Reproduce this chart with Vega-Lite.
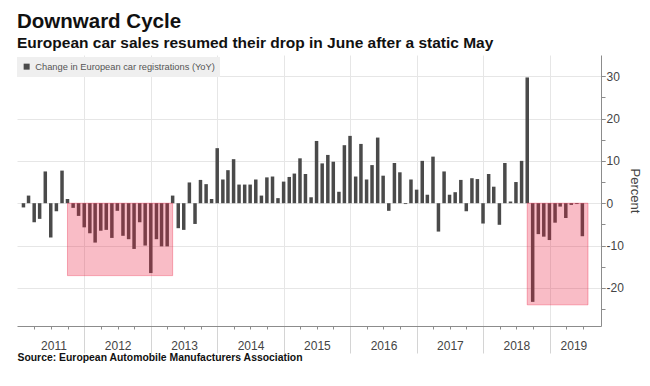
{
  "$schema": "https://vega.github.io/schema/vega-lite/v6.json",
  "width": 584,
  "height": 271,
  "autosize": {"type": "none"},
  "padding": {"left": 17, "top": 55, "right": 49, "bottom": 60},
  "background": "white",
  "title": {
    "text": "Downward Cycle",
    "subtitle": "European car sales resumed their drop in June after a static May",
    "anchor": "start",
    "frame": "group",
    "font": "Liberation Sans",
    "fontSize": 20.5,
    "fontWeight": "bold",
    "color": "#111111",
    "subtitleFont": "Liberation Sans",
    "subtitleFontSize": 15.5,
    "subtitleFontWeight": "bold",
    "subtitleColor": "#111111",
    "subtitlePadding": 3,
    "offset": 4
  },
  "datasets": {
    "sales": [
      {"date": "2011-01-31", "value": -1.0},
      {"date": "2011-02-28", "value": 1.8},
      {"date": "2011-03-31", "value": -4.5},
      {"date": "2011-04-30", "value": -3.7},
      {"date": "2011-05-31", "value": 7.5},
      {"date": "2011-06-30", "value": -8.1},
      {"date": "2011-07-31", "value": -1.9},
      {"date": "2011-08-31", "value": 7.7},
      {"date": "2011-09-30", "value": 1.0},
      {"date": "2011-10-31", "value": -1.1},
      {"date": "2011-11-30", "value": -3.0},
      {"date": "2011-12-31", "value": -5.7},
      {"date": "2012-01-31", "value": -7.1},
      {"date": "2012-02-29", "value": -9.3},
      {"date": "2012-03-31", "value": -6.5},
      {"date": "2012-04-30", "value": -6.3},
      {"date": "2012-05-31", "value": -8.2},
      {"date": "2012-06-30", "value": -1.8},
      {"date": "2012-07-31", "value": -7.7},
      {"date": "2012-08-31", "value": -8.5},
      {"date": "2012-09-30", "value": -10.8},
      {"date": "2012-10-31", "value": -4.5},
      {"date": "2012-11-30", "value": -10.0},
      {"date": "2012-12-31", "value": -16.5},
      {"date": "2013-01-31", "value": -8.5},
      {"date": "2013-02-28", "value": -10.2},
      {"date": "2013-03-31", "value": -10.2},
      {"date": "2013-04-30", "value": 1.8},
      {"date": "2013-05-31", "value": -5.9},
      {"date": "2013-06-30", "value": -6.3},
      {"date": "2013-07-31", "value": 4.9},
      {"date": "2013-08-31", "value": -4.9},
      {"date": "2013-09-30", "value": 5.5},
      {"date": "2013-10-31", "value": 4.5},
      {"date": "2013-11-30", "value": 1.0},
      {"date": "2013-12-31", "value": 13.0},
      {"date": "2014-01-31", "value": 5.6},
      {"date": "2014-02-28", "value": 7.8},
      {"date": "2014-03-31", "value": 10.4},
      {"date": "2014-04-30", "value": 4.4},
      {"date": "2014-05-31", "value": 4.4},
      {"date": "2014-06-30", "value": 4.4},
      {"date": "2014-07-31", "value": 5.6},
      {"date": "2014-08-31", "value": 1.8},
      {"date": "2014-09-30", "value": 6.1},
      {"date": "2014-10-31", "value": 6.3},
      {"date": "2014-11-30", "value": 1.2},
      {"date": "2014-12-31", "value": 5.1},
      {"date": "2015-01-31", "value": 6.2},
      {"date": "2015-02-28", "value": 7.0},
      {"date": "2015-03-31", "value": 10.6},
      {"date": "2015-04-30", "value": 6.9},
      {"date": "2015-05-31", "value": 1.4},
      {"date": "2015-06-30", "value": 14.7},
      {"date": "2015-07-31", "value": 9.4},
      {"date": "2015-08-31", "value": 11.4},
      {"date": "2015-09-30", "value": 9.8},
      {"date": "2015-10-31", "value": 2.7},
      {"date": "2015-11-30", "value": 13.7},
      {"date": "2015-12-31", "value": 15.9},
      {"date": "2016-01-31", "value": 6.3},
      {"date": "2016-02-29", "value": 14.0},
      {"date": "2016-03-31", "value": 5.6},
      {"date": "2016-04-30", "value": 9.0},
      {"date": "2016-05-31", "value": 15.5},
      {"date": "2016-06-30", "value": 6.5},
      {"date": "2016-07-31", "value": -1.8},
      {"date": "2016-08-31", "value": 9.5},
      {"date": "2016-09-30", "value": 7.3},
      {"date": "2016-10-31", "value": -0.2},
      {"date": "2016-11-30", "value": 5.6},
      {"date": "2016-12-31", "value": 3.2},
      {"date": "2017-01-31", "value": 10.0},
      {"date": "2017-02-28", "value": 2.0},
      {"date": "2017-03-31", "value": 11.0},
      {"date": "2017-04-30", "value": -6.7},
      {"date": "2017-05-31", "value": 7.5},
      {"date": "2017-06-30", "value": 2.0},
      {"date": "2017-07-31", "value": 2.6},
      {"date": "2017-08-31", "value": 5.5},
      {"date": "2017-09-30", "value": -1.9},
      {"date": "2017-10-31", "value": 5.9},
      {"date": "2017-11-30", "value": 5.7},
      {"date": "2017-12-31", "value": -4.8},
      {"date": "2018-01-31", "value": 6.9},
      {"date": "2018-02-28", "value": 3.9},
      {"date": "2018-03-31", "value": -5.1},
      {"date": "2018-04-30", "value": 9.5},
      {"date": "2018-05-31", "value": 0.4},
      {"date": "2018-06-30", "value": 5.0},
      {"date": "2018-07-31", "value": 10.0},
      {"date": "2018-08-31", "value": 29.7},
      {"date": "2018-09-30", "value": -23.3},
      {"date": "2018-10-31", "value": -7.3},
      {"date": "2018-11-30", "value": -7.9},
      {"date": "2018-12-31", "value": -8.7},
      {"date": "2019-01-31", "value": -4.6},
      {"date": "2019-02-28", "value": -0.8},
      {"date": "2019-03-31", "value": -3.5},
      {"date": "2019-04-30", "value": -0.4},
      {"date": "2019-05-31", "value": -0.2},
      {"date": "2019-06-30", "value": -7.8}
    ],
    "zones": [
      {"start": "2011-09-30", "end": "2013-04-30", "low": -17.1, "high": 0},
      {"start": "2018-08-31", "end": "2019-07-31", "low": -24.0, "high": 0}
    ]
  },
  "layer": [
    {
      "data": {"name": "sales"},
      "mark": {"type": "bar", "width": 3.5, "color": "#4a4a4a"},
      "encoding": {
        "x": {
          "field": "date",
          "type": "temporal",
          "scale": {
            "type": "utc",
            "domain": [
              {"year": 2011, "month": 1, "date": 23, "utc": true},
              {"year": 2019, "month": 9, "date": 13, "utc": true}
            ]
          },
          "axis": {
            "orient": "bottom",
            "title": null,
            "labels": false,
            "values": [
              {"year": 2011, "month": 4, "date": 1, "utc": true},
              {"year": 2011, "month": 7, "date": 1, "utc": true},
              {"year": 2011, "month": 10, "date": 1, "utc": true},
              {"year": 2012, "month": 1, "date": 1, "utc": true},
              {"year": 2012, "month": 4, "date": 1, "utc": true},
              {"year": 2012, "month": 7, "date": 1, "utc": true},
              {"year": 2012, "month": 10, "date": 1, "utc": true},
              {"year": 2013, "month": 1, "date": 1, "utc": true},
              {"year": 2013, "month": 4, "date": 1, "utc": true},
              {"year": 2013, "month": 7, "date": 1, "utc": true},
              {"year": 2013, "month": 10, "date": 1, "utc": true},
              {"year": 2014, "month": 1, "date": 1, "utc": true},
              {"year": 2014, "month": 4, "date": 1, "utc": true},
              {"year": 2014, "month": 7, "date": 1, "utc": true},
              {"year": 2014, "month": 10, "date": 1, "utc": true},
              {"year": 2015, "month": 1, "date": 1, "utc": true},
              {"year": 2015, "month": 4, "date": 1, "utc": true},
              {"year": 2015, "month": 7, "date": 1, "utc": true},
              {"year": 2015, "month": 10, "date": 1, "utc": true},
              {"year": 2016, "month": 1, "date": 1, "utc": true},
              {"year": 2016, "month": 4, "date": 1, "utc": true},
              {"year": 2016, "month": 7, "date": 1, "utc": true},
              {"year": 2016, "month": 10, "date": 1, "utc": true},
              {"year": 2017, "month": 1, "date": 1, "utc": true},
              {"year": 2017, "month": 4, "date": 1, "utc": true},
              {"year": 2017, "month": 7, "date": 1, "utc": true},
              {"year": 2017, "month": 10, "date": 1, "utc": true},
              {"year": 2018, "month": 1, "date": 1, "utc": true},
              {"year": 2018, "month": 4, "date": 1, "utc": true},
              {"year": 2018, "month": 7, "date": 1, "utc": true},
              {"year": 2018, "month": 10, "date": 1, "utc": true},
              {"year": 2019, "month": 1, "date": 1, "utc": true},
              {"year": 2019, "month": 4, "date": 1, "utc": true},
              {"year": 2019, "month": 7, "date": 1, "utc": true}
            ],
            "grid": true,
            "gridColor": "#e6e6e6",
            "gridOpacity": {"condition": {"test": "utcmonth(datum.value) === 0", "value": 1}, "value": 0},
            "ticks": true,
            "tickSize": {"condition": {"test": "utcmonth(datum.value) === 0", "value": 27}, "value": 3},
            "tickColor": {"condition": {"test": "utcmonth(datum.value) === 0", "value": "#d4d4d4"}, "value": "#8c8c8c"},
            "domain": true,
            "domainColor": "#8c8c8c"
          }
        },
        "y": {
          "field": "value",
          "type": "quantitative",
          "scale": {"domain": [-29, 35], "nice": false, "zero": false},
          "axis": {
            "orient": "right",
            "title": "Percent",
            "values": [-20, -10, 0, 10, 20, 30],
            "grid": true,
            "gridColor": "#e6e6e6",
            "tickSize": 4,
            "tickColor": "#8c8c8c",
            "domainColor": "#8c8c8c",
            "labelPadding": 1,
            "labelFont": "Liberation Sans",
            "labelFontSize": 12,
            "labelColor": "#444444",
            "labelOverlap": false,
            "labelFlush": false,
            "titleFont": "Liberation Sans",
            "titleFontSize": 13,
            "titleFontWeight": "normal",
            "titleColor": "#444444",
            "titlePadding": 4
          }
        },
        "color": {
          "datum": "Change in European car registrations (YoY)",
          "type": "nominal",
          "scale": {"range": ["#4a4a4a"]},
          "legend": {
            "orient": "none",
            "legendX": 0,
            "legendY": 2,
            "title": null,
            "fillColor": "#efefef",
            "padding": 5,
            "symbolType": "square",
            "symbolSize": 36,
            "symbolStrokeWidth": 0,
            "labelFont": "Liberation Sans",
            "labelFontSize": 9.3,
            "labelLimit": 0,
            "labelColor": "#555555",
            "labelOffset": 4
          }
        }
      }
    },
    {
      "data": {"name": "zones"},
      "mark": {"type": "rect", "color": "#eb2041", "fillOpacity": 0.3, "stroke": "#eb2041", "strokeOpacity": 0.35, "strokeWidth": 1},
      "encoding": {
        "x": {
          "field": "start",
          "type": "temporal",
          "scale": {
            "type": "utc",
            "domain": [
              {"year": 2011, "month": 1, "date": 23, "utc": true},
              {"year": 2019, "month": 9, "date": 13, "utc": true}
            ]
          },
          "axis": {
            "orient": "bottom",
            "values": [
              {"year": 2011, "month": 7, "date": 15, "utc": true},
              {"year": 2012, "month": 7, "date": 2, "utc": true},
              {"year": 2013, "month": 7, "date": 2, "utc": true},
              {"year": 2014, "month": 7, "date": 2, "utc": true},
              {"year": 2015, "month": 7, "date": 2, "utc": true},
              {"year": 2016, "month": 7, "date": 2, "utc": true},
              {"year": 2017, "month": 7, "date": 2, "utc": true},
              {"year": 2018, "month": 7, "date": 2, "utc": true},
              {"year": 2019, "month": 5, "date": 12, "utc": true}
            ],
            "format": "%Y",
            "grid": false,
            "ticks": false,
            "tickSize": 0,
            "domain": false,
            "labelFlush": false,
            "labelOverlap": false,
            "labelBound": false,
            "labelPadding": 14,
            "labelFont": "Liberation Sans",
            "labelFontSize": 12,
            "labelColor": "#444444",
            "title": "Source: European Automobile Manufacturers Association",
            "titleAnchor": "start",
            "titleAlign": "left",
            "titleFont": "Liberation Sans",
            "titleFontSize": 10.4,
            "titleFontWeight": "bold",
            "titleColor": "#111111",
            "titlePadding": 1
          }
        },
        "x2": {"field": "end"},
        "y": {
          "field": "low",
          "type": "quantitative",
          "scale": {"domain": [-29, 35], "nice": false, "zero": false},
          "axis": {
            "orient": "right",
            "title": null,
            "values": [-25, -20, -15, -10, -5, 0, 5, 10, 15, 20, 25, 30],
            "labels": false,
            "grid": false,
            "domain": false,
            "tickSize": 4,
            "tickColor": "#8c8c8c"
          }
        },
        "y2": {"field": "high"}
      }
    }
  ],
  "resolve": {"axis": {"x": "independent", "y": "independent"}},
  "config": {
    "view": {"stroke": null},
    "locale": {
      "number": {"decimal": ".", "thousands": ",", "grouping": [3], "currency": ["$", ""], "minus": "-"}
    }
  }
}
